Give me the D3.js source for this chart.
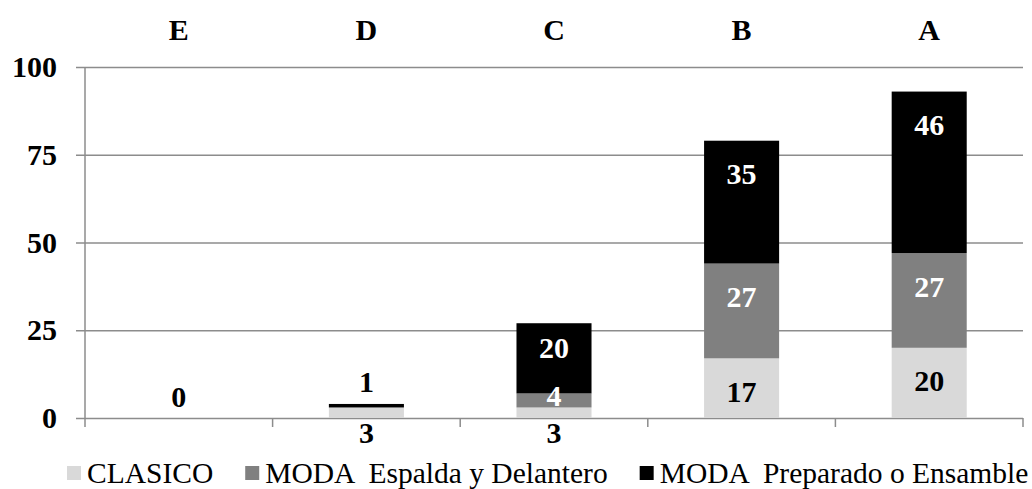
<!DOCTYPE html>
<html lang="es">
<head>
    <meta charset="UTF-8">
    <title>Grafico apilado</title>
    <script src="https://d3js.org/d3.v7.min.js"></script>
    <style>
        body {
            margin: 0;
            padding: 0;
            background: #fff;
            font-family: "Liberation Serif", "Times New Roman", serif;
        }
        svg { display: block; }
        .grid line { stroke: #8c8c8c; stroke-width: 1.5px; }
        .tick-label text { font-weight: bold; font-size: 30px; fill: #000; }
        .cat { font-weight: bold; font-size: 30px; text-anchor: middle; }
        .val { font-weight: bold; font-size: 30px; text-anchor: middle; }
        .legend text { font-size: 29.5px; fill: #000; }
    </style>
</head>
<body>
    <svg width="1032" height="489"></svg>

    <script>
        const categories = ["E", "D", "C", "B", "A"];
        const seriesNames = ["CLASICO", "MODA  Espalda y Delantero", "MODA  Preparado o Ensamble"];
        const clasico = [0, 3, 3, 17, 20];
        const espalda = [0, 0, 4, 27, 27];
        const preparado = [0, 1, 20, 35, 46];
        const yTicks = [0, 25, 50, 75, 100];
        const colors = ["#d9d9d9", "#808080", "#000000"];

        const margin = { top: 67, right: 9, bottom: 71, left: 85 };
        const width = 1032 - margin.left - margin.right;
        const height = 489 - margin.top - margin.bottom;

        const svg = d3.select("svg")
            .append("g")
            .attr("transform", `translate(${margin.left},${margin.top})`);

        const x = d3.scaleBand()
            .domain(categories)
            .range([0, width])
            .padding(0);

        const y = d3.scaleLinear()
            .domain([0, 100])
            .range([height, 0]);

        // rejilla horizontal (sale 9px a la izquierda del eje)
        const grid = svg.append("g")
            .attr("class", "grid")
            .attr("transform", "translate(-9,0)")
            .call(d3.axisRight(y).tickValues(yTicks).tickSize(width + 9).tickFormat(""));
        grid.select(".domain").remove();

        // etiquetas del eje Y
        const yAxis = svg.append("g")
            .attr("class", "tick-label")
            .call(d3.axisLeft(y).tickValues(yTicks).tickSize(0).tickPadding(28));
        yAxis.select(".domain").remove();
        yAxis.selectAll("text").attr("font-family", "Liberation Serif");

        // eje vertical
        svg.append("line")
            .attr("x1", 0).attr("x2", 0)
            .attr("y1", 0).attr("y2", height + 9)
            .attr("stroke", "#8c8c8c").attr("stroke-width", 1.5);

        // marcas inferiores entre categorias
        const bounds = categories.map(c => x(c)).concat([width]);
        svg.selectAll(".xtick")
            .data(bounds.slice(1))
            .enter()
            .append("line")
            .attr("x1", d => d).attr("x2", d => d)
            .attr("y1", height).attr("y2", height + 9)
            .attr("stroke", "#8c8c8c").attr("stroke-width", 1.5);

        // categorias arriba
        svg.selectAll(".cat")
            .data(categories)
            .enter()
            .append("text")
            .attr("class", "cat")
            .attr("x", d => x(d) + x.bandwidth() / 2)
            .attr("y", -27)
            .text(d => d);

        // barras apiladas
        const rows = categories.map((c, i) => ({
            cat: c, s0: clasico[i], s1: espalda[i], s2: preparado[i]
        }));
        const stack = d3.stack().keys(["s0", "s1", "s2"])(rows);

        const barW = x.bandwidth() * 0.4;
        const barOff = x.bandwidth() * 0.3;

        stack.forEach((layer, si) => {
            svg.selectAll(".bar" + si)
                .data(layer)
                .enter()
                .append("rect")
                .attr("x", d => x(d.data.cat) + barOff)
                .attr("y", d => y(d[1]))
                .attr("width", barW)
                .attr("height", d => y(d[0]) - y(d[1]))
                .attr("fill", colors[si]);
        });

        // etiquetas de valores
        stack.forEach((layer, si) => {
            layer.forEach(d => {
                const v = d[1] - d[0];
                const top = y(d[1]);
                const bottom = y(d[0]);
                const h = bottom - top;
                const cx = x(d.data.cat) + x.bandwidth() / 2;
                let cy, fill;
                if (h >= 40) {
                    cy = top + (si === 2 ? Math.min(33, h / 2 - 11) : 33);
                    fill = si === 0 ? "#000" : "#fff";
                } else if (si === 2) {
                    cy = top - 22;
                    fill = "#000";
                } else if (v === 0) {
                    return;
                } else if (si === 1) {
                    cy = (top + bottom) / 2 - 5;
                    fill = "#fff";
                } else {
                    cy = bottom + 14;
                    fill = "#000";
                }
                svg.append("text")
                    .attr("class", "val")
                    .attr("x", cx)
                    .attr("y", cy)
                    .attr("dy", "0.35em")
                    .attr("fill", fill)
                    .text(v);
            });
        });

        // leyenda
        const legend = d3.select("svg").append("g")
            .attr("class", "legend")
            .attr("transform", "translate(67,473)");
        let lx = 0;
        seriesNames.forEach((name, i) => {
            legend.append("rect")
                .attr("x", lx).attr("y", -7)
                .attr("width", 14).attr("height", 14)
                .attr("fill", colors[i]);
            const t = legend.append("text")
                .attr("x", lx + 20)
                .attr("y", 0)
                .attr("dy", "0.35em")
                .style("white-space", "pre")
                .attr("xml:space", "preserve")
                .text(name);
            lx += 20 + t.node().getComputedTextLength() + 32;
        });
    </script>
</body>
</html>
